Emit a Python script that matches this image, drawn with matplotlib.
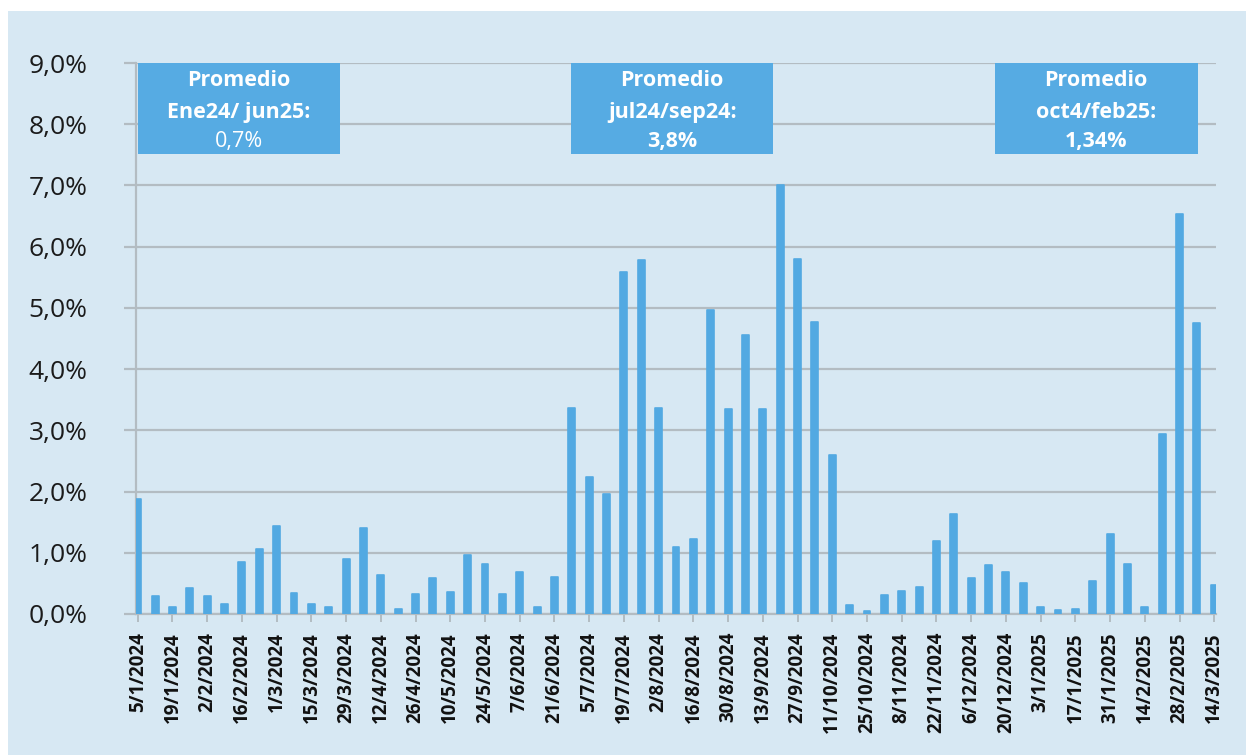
import matplotlib
matplotlib.use("Agg")
import matplotlib.pyplot as plt
from matplotlib.patches import Rectangle
import numpy as np

plt.rcParams['font.family'] = ['Open Sans', 'DejaVu Sans']

# weekly values (%), one bar per week from 5/1/2024 to 14/3/2025
values = [1.88, 0.30, 0.12, 0.43, 0.30, 0.17, 0.85, 1.06, 1.44, 0.34,
          0.17, 0.12, 0.90, 1.41, 0.64, 0.08, 0.32, 0.59, 0.36, 0.97,
          0.82, 0.33, 0.68, 0.11, 0.60, 3.37, 2.23, 1.96, 5.59, 5.78,
          3.37, 1.10, 1.23, 4.96, 3.35, 4.55, 3.35, 7.00, 5.80, 4.77,
          2.60, 0.15, 0.05, 0.31, 0.38, 0.44, 1.20, 1.63, 0.59, 0.80,
          0.69, 0.50, 0.11, 0.06, 0.08, 0.54, 1.31, 0.81, 0.11, 2.94,
          6.53, 4.76, 0.48]

# labels shown every other week
tick_labels = ["5/1/2024", "19/1/2024", "2/2/2024", "16/2/2024", "1/3/2024",
               "15/3/2024", "29/3/2024", "12/4/2024", "26/4/2024", "10/5/2024",
               "24/5/2024", "7/6/2024", "21/6/2024", "5/7/2024", "19/7/2024",
               "2/8/2024", "16/8/2024", "30/8/2024", "13/9/2024", "27/9/2024",
               "11/10/2024", "25/10/2024", "8/11/2024", "22/11/2024", "6/12/2024",
               "20/12/2024", "3/1/2025", "17/1/2025", "31/1/2025", "14/2/2025",
               "28/2/2025", "14/3/2025"]

# average boxes: period and value
box_periods = ["Ene24/ jun25:", "jul24/sep24:", "oct4/feb25:"]
box_values = ["0,7%", "3,8%", "1,34%"]

bar_color = "#52A9E2"
bg_color = "#D7E8F3"
grid_color = "#B3BCC2"

fig = plt.figure(figsize=(12.46, 7.55), dpi=100)
fig.patch.set_facecolor("white")
fig.patches.append(Rectangle((8 / 1246, 0), 1, 1 - 11 / 755, transform=fig.transFigure,
                             facecolor=bg_color, edgecolor="none", zorder=-10))

ax = fig.add_axes([136 / 1246, 1 - 614 / 755, 1080 / 1246, 551 / 755])
ax.set_facecolor("none")

x = np.arange(len(values))
ax.bar(x, values, width=0.4, color=bar_color, edgecolor=bar_color,
       linewidth=1.2, joinstyle="round", zorder=3)

ax.set_xlim(-0.1, 62.1)
ax.set_ylim(0, 9)
ax.set_yticks(np.arange(0, 10, 1))
ax.set_yticklabels([f"{v:.1f}%".replace(".", ",") for v in range(10)], fontsize=19,
                   color="#1b1b1b")
ax.set_xticks(x[::2])
ax.set_xticklabels(tick_labels, rotation=90, fontsize=13.5, color="#111111",
                   fontweight="bold")

ax.grid(axis="y", color=grid_color, linewidth=1.6, zorder=1)
for s in ["top", "right"]:
    ax.spines[s].set_visible(False)
ax.spines["left"].set_color(grid_color)
ax.spines["left"].set_linewidth(1.6)
ax.spines["bottom"].set_color(grid_color)
ax.spines["bottom"].set_linewidth(1.6)
ax.tick_params(axis="y", length=9, width=1.6, color=grid_color, pad=26)
ax.tick_params(axis="x", length=6, width=1.4, color=grid_color, pad=7)

# boxes with the averages (axes fraction)
box_pos = [(0.002, 0.189), (0.403, 0.590), (0.795, 0.983)]
value_weights = ["normal", "bold", "bold"]
for i, (x0, x1) in enumerate(box_pos):
    ax.add_patch(Rectangle((x0, 0.835), x1 - x0, 0.165, transform=ax.transAxes,
                           facecolor="#56ABE3", edgecolor="none", zorder=5,
                           clip_on=False))
    xc = (x0 + x1) / 2
    ax.text(xc, 0.969, "Promedio", transform=ax.transAxes, ha="center", va="center",
            color="white", fontsize=15.5, fontweight="bold", zorder=6)
    ax.text(xc, 0.910, box_periods[i], transform=ax.transAxes, ha="center", va="center",
            color="white", fontsize=15.5, fontweight="bold", zorder=6)
    ax.text(xc, 0.857, box_values[i], transform=ax.transAxes, ha="center", va="center",
            color="white", fontsize=15.5, fontweight=value_weights[i], zorder=6)

fig.savefig("out.png", dpi=100, facecolor=fig.get_facecolor())
